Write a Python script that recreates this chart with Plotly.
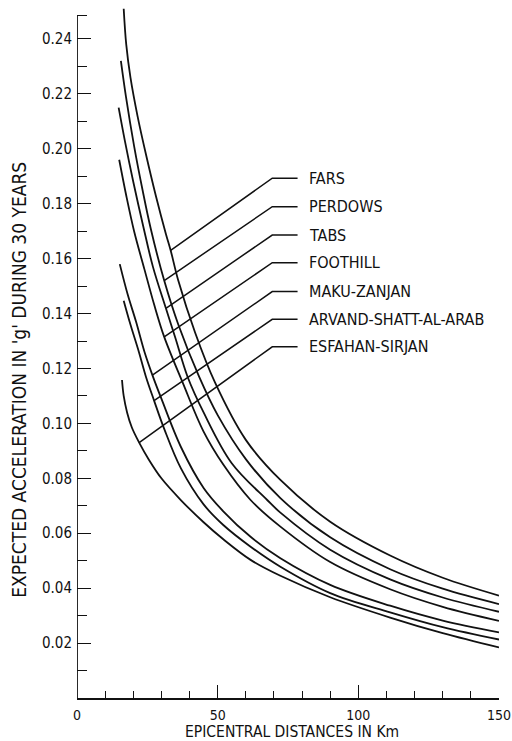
import plotly.graph_objects as go

# ---------------- data ----------------
names = ["FARS", "PERDOWS", "TABS", "FOOTHILL", "MAKU-ZANJAN",
         "ARVAND-SHATT-AL-ARAB", "ESFAHAN-SIRJAN"]

fars_x = [16.6, 17.5, 19.0, 21.5, 24.5, 28.0, 31.6, 33.3, 36.0, 42.0, 49.0, 60.0, 72.3, 90.0, 111.3, 130.0, 150.0]
fars_y = [0.251, 0.238, 0.226, 0.212, 0.198, 0.183, 0.169, 0.163, 0.152, 0.133, 0.115, 0.094, 0.0794, 0.0642, 0.0519, 0.0438, 0.0373]

perdows_x = [15.6, 17.4, 20.3, 23.3, 26.2, 31.0, 36.0, 43.4, 50.0, 60.0, 72.3, 90.0, 111.3, 130.0, 150.0]
perdows_y = [0.232, 0.219, 0.201, 0.185, 0.171, 0.152, 0.136, 0.117, 0.103, 0.087, 0.0728, 0.0585, 0.0469, 0.0398, 0.0342]

tabs_x = [14.8, 17.0, 20.0, 23.5, 27.0, 31.6, 35.0, 39.3, 45.0, 55.0, 67.6, 72.3, 90.0, 111.3, 130.0, 150.0]
tabs_y = [0.215, 0.203, 0.188, 0.172, 0.157, 0.1419, 0.131, 0.117, 0.104, 0.0855, 0.0721, 0.0675, 0.0540, 0.0432, 0.0366, 0.0314]

foothill_x = [15.0, 17.5, 20.3, 24.0, 27.5, 31.0, 37.5, 45.0, 52.0, 61.7, 72.3, 90.0, 111.3, 130.0, 150.0]
foothill_y = [0.196, 0.183, 0.170, 0.156, 0.143, 0.1315, 0.115, 0.097, 0.085, 0.0721, 0.0624, 0.0495, 0.0396, 0.0332, 0.0281]

maku_x = [15.2, 18.0, 21.0, 24.0, 26.8, 30.0, 36.9, 45.0, 52.0, 61.7, 72.3, 90.0, 111.3, 130.0, 150.0]
maku_y = [0.158, 0.147, 0.137, 0.126, 0.1176, 0.109, 0.0915, 0.0765, 0.068, 0.0587, 0.0509, 0.0412, 0.0336, 0.0282, 0.0239]

arvand_x = [16.6, 19.0, 22.0, 24.5, 27.4, 31.0, 36.9, 45.0, 52.0, 61.7, 72.3, 90.0, 111.3, 130.0, 150.0]
arvand_y = [0.1447, 0.136, 0.126, 0.117, 0.1083, 0.098, 0.0837, 0.0705, 0.063, 0.0551, 0.0478, 0.0382, 0.0312, 0.0258, 0.0213]

esfahan_x = [16.0, 16.6, 17.8, 19.5, 22.1, 25.6, 30.0, 36.9, 45.0, 52.0, 61.7, 72.3, 90.0, 111.3, 130.0, 150.0]
esfahan_y = [0.1158, 0.110, 0.104, 0.0985, 0.093, 0.0867, 0.080, 0.0721, 0.064, 0.0578, 0.0503, 0.0445, 0.0367, 0.0293, 0.0236, 0.0184]

series_x = [fars_x, perdows_x, tabs_x, foothill_x, maku_x, arvand_x, esfahan_x]
series_y = [fars_y, perdows_y, tabs_y, foothill_y, maku_y, arvand_y, esfahan_y]

# leader lines: label level, index of the point on the curve where the leader ends
label_y = [0.1893, 0.1789, 0.1686, 0.1585, 0.1480, 0.1379, 0.1279]
leader_end_idx = [7, 5, 5, 5, 4, 4, 4]
leader_corner_x = 69.4
leader_text_gap_x = 78.4
label_text_x = 81.6

ytick_vals = [0.02, 0.04, 0.06, 0.08, 0.10, 0.12, 0.14, 0.16, 0.18, 0.20, 0.22, 0.24]
ytick_text = ["0.02", "0.04", "0.06", "0.08", "0.10", "0.12", "0.14", "0.16", "0.18", "0.20", "0.22", "0.24"]
yminor_vals = [0.01, 0.03, 0.05, 0.07, 0.09, 0.11, 0.13, 0.15, 0.17, 0.19, 0.21, 0.23, 0.2484]
xtick_vals = [0, 50, 100, 150]
xminor_vals = [10, 20, 30, 40, 60, 70, 80, 90, 110, 120, 130, 140]
AXIS_TOP = 0.2484

FONT = "DejaVu Sans Condensed, Liberation Sans Narrow, DejaVu Sans, sans-serif"
INK = "#111111"

fig = go.Figure()
for xs, ys in zip(series_x, series_y):
    fig.add_trace(go.Scatter(x=xs, y=ys, mode="lines",
                             line=dict(color=INK, width=1.8, shape="spline", smoothing=1.0),
                             showlegend=False, hoverinfo="skip"))

# leader lines + labels
for name, ly, idx, xs, ys in zip(names, label_y, leader_end_idx, series_x, series_y):
    fig.add_trace(go.Scatter(x=[xs[idx], leader_corner_x, leader_text_gap_x],
                             y=[ys[idx], ly, ly], mode="lines",
                             line=dict(color=INK, width=1.5),
                             showlegend=False, hoverinfo="skip"))
    fig.add_annotation(x=label_text_x, y=ly, text=name, showarrow=False,
                       xanchor="left", yanchor="middle",
                       font=dict(family=FONT, size=16, color=INK))

# y axis line (stops a little below the top of the frame)
fig.add_shape(type="line", xref="x", yref="y", x0=0, x1=0, y0=0, y1=AXIS_TOP,
              line=dict(color=INK, width=1.8))

fig.update_xaxes(range=[0, 150], showline=True, linecolor=INK, linewidth=1.8,
                 showgrid=False, zeroline=False, ticks="inside", ticklen=13,
                 tickwidth=1.4, tickcolor=INK, tickvals=xtick_vals,
                 ticktext=[str(v) for v in xtick_vals],
                 minor=dict(tickvals=xminor_vals, ticks="inside", ticklen=7,
                            tickwidth=1.4, tickcolor=INK),
                 tickfont=dict(family=FONT, size=14, color=INK),
                 ticklabelstandoff=3, automargin=False)
fig.update_yaxes(range=[0, 0.252], showline=False, showgrid=False, zeroline=False,
                 ticks="inside", ticklen=14, tickwidth=1.4, tickcolor=INK,
                 tickvals=ytick_vals, ticktext=ytick_text,
                 minor=dict(tickvals=yminor_vals, ticks="inside", ticklen=10,
                            tickwidth=1.4, tickcolor=INK),
                 tickfont=dict(family=FONT, size=15, color=INK),
                 ticklabelstandoff=4, automargin=False)

fig.add_annotation(xref="paper", yref="paper", x=0.509, y=-0.0495,
                   text="EPICENTRAL DISTANCES IN Km", showarrow=False,
                   xanchor="center", yanchor="middle",
                   font=dict(family=FONT, size=15.5, color=INK))
fig.add_annotation(xref="paper", yref="paper", x=-0.138, y=0.4595,
                   text="EXPECTED ACCELERATION IN 'g' DURING 30 YEARS",
                   showarrow=False, textangle=-90,
                   xanchor="center", yanchor="middle",
                   font=dict(family=FONT, size=19, color=INK))

fig.update_layout(width=512, height=741, margin=dict(l=77, r=13, t=6, b=43),
                  paper_bgcolor="white", plot_bgcolor="white")

fig.write_html("out.html", config={"displayModeBar": False},
               post_script="document.body.style.margin='0';document.body.style.overflow='hidden';")
